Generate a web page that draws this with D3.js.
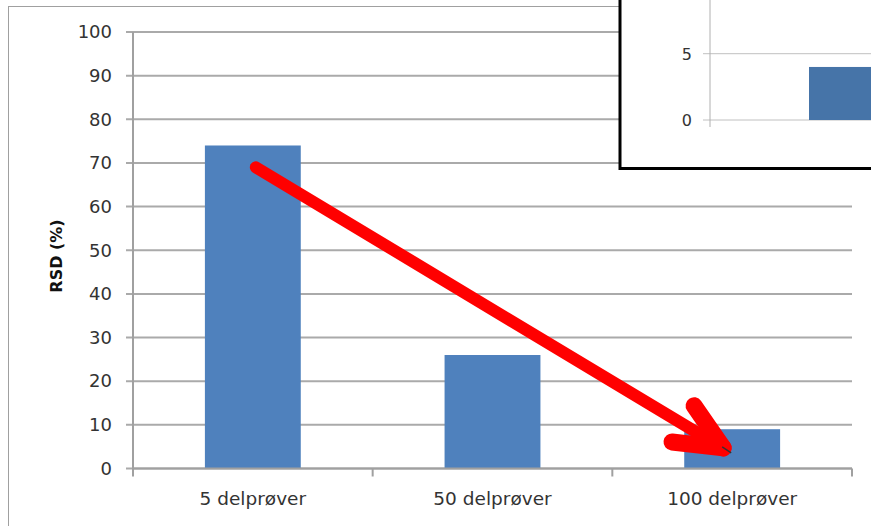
<!DOCTYPE html>
<html><head><meta charset="utf-8">
<script src="https://cdn.jsdelivr.net/npm/d3@7"></script>
<style>
html,body{margin:0;padding:0;background:#fff;}
svg{display:block;}
text{font-family:"DejaVu Sans",Verdana,sans-serif;}
</style></head>
<body>
<script>
const categories = ["5 delprøver", "50 delprøver", "100 delprøver"];
const values = [74, 26, 9];
const yTicks = [0, 10, 20, 30, 40, 50, 60, 70, 80, 90, 100];
const insetValues = [4];
const insetTicks = [0, 5];
const arrowFrom = {cat: 0, value: 69};
const arrowTo = {cat: 2, value: 3.8};

const W = 871, H = 526;
const svg = d3.select("body").append("svg").attr("width", W).attr("height", H);

// outer chart border
svg.append("rect").attr("x", 8.5).attr("y", 6.5).attr("width", 900).attr("height", 600)
  .attr("fill", "#fff").attr("stroke", "#a0a0a0").attr("stroke-width", 1);

const x = d3.scaleBand().domain(categories).range([133, 852]).paddingInner(0).paddingOuter(0);
const y = d3.scaleLinear().domain([0, 100]).range([468.5, 32]);

// gridlines
svg.append("g").selectAll("line").data(yTicks).join("line")
  .attr("x1", 126).attr("x2", 852)
  .attr("y1", d => y(d)).attr("y2", d => y(d))
  .attr("stroke", "#aaaaaa").attr("stroke-width", 2);

// y axis
const yAxis = svg.append("g").attr("transform", "translate(133,0)")
  .call(d3.axisLeft(y).tickValues(yTicks).tickSize(0).tickPadding(21));
yAxis.select(".domain").remove();
yAxis.append("line").attr("x1", 0).attr("x2", 0).attr("y1", y(100)).attr("y2", y(0) + 7)
  .attr("stroke", "#a0a0a0").attr("stroke-width", 2);
yAxis.selectAll(".tick text").attr("font-size", 18).attr("fill", "#333")
  .attr("font-family", "DejaVu Sans");

// bars
svg.append("g").selectAll("rect").data(values).join("rect")
  .attr("x", (d, i) => x(categories[i]) + x.bandwidth() * 0.3)
  .attr("width", x.bandwidth() * 0.4)
  .attr("y", d => y(d))
  .attr("height", d => y(0) - y(d))
  .attr("fill", "#4f81bd");

// x axis
const xg = svg.append("g").attr("transform", `translate(0,${y(0)})`);
xg.append("line").attr("x1", 133).attr("x2", 852).attr("y1", 0).attr("y2", 0)
  .attr("stroke", "#a0a0a0").attr("stroke-width", 2);
const bounds = [133].concat(categories.map(c => x(c) + x.bandwidth()));
xg.selectAll("line.t").data(bounds).join("line").attr("class", "t")
  .attr("x1", d => d).attr("x2", d => d).attr("y1", 0).attr("y2", 8)
  .attr("stroke", "#a0a0a0").attr("stroke-width", 2);
xg.selectAll("text").data(categories).join("text")
  .attr("x", d => x(d) + x.bandwidth() / 2).attr("y", 36)
  .attr("text-anchor", "middle").attr("font-size", 18.5).attr("fill", "#333")
  .text(d => d);

// y title
svg.append("text").attr("transform", `translate(62,256) rotate(-90)`)
  .attr("text-anchor", "middle").attr("font-size", 16).attr("font-weight", "bold").attr("fill", "#111")
  .text("RSD (%)");

// red arrow
const cx = i => x(categories[i]) + x.bandwidth() / 2;
const ax1 = cx(arrowFrom.cat) + 3, ay1 = y(arrowFrom.value);
const ax2 = cx(arrowTo.cat) - 3, ay2 = y(arrowTo.value);
const ang = Math.atan2(ay2 - ay1, ax2 - ax1);
const arrowG = svg.append("g");
arrowG.append("line").attr("x1", ax1 - 5).attr("y1", ay1 - 3).attr("x2", ax1).attr("y2", ay1)
  .attr("stroke", "#333").attr("stroke-width", 1.5);
arrowG.append("line").attr("x1", ax1).attr("y1", ay1)
  .attr("x2", ax2 - 10 * Math.cos(ang)).attr("y2", ay2 - 10 * Math.sin(ang))
  .attr("stroke", "#ff0000").attr("stroke-width", 12).attr("stroke-linecap", "round");
const headLen = 58;
const hx = ax2 - 6, hy = ay2 - 4;
[ang + Math.PI - 0.37, ang + Math.PI + 0.38].forEach(a => {
  arrowG.append("line").attr("x1", hx).attr("y1", hy)
    .attr("x2", ax2 + headLen * Math.cos(a)).attr("y2", ay2 + headLen * Math.sin(a))
    .attr("stroke", "#ff0000").attr("stroke-width", 17).attr("stroke-linecap", "round");
});
arrowG.append("line").attr("x1", ax2 - 7).attr("y1", ay2 - 5).attr("x2", ax2 + 2).attr("y2", ay2 + 1)
  .attr("stroke", "#333").attr("stroke-width", 1.5);

// inset
const inset = svg.append("g");
inset.append("rect").attr("x", 620).attr("y", -10).attr("width", 300).attr("height", 178.5)
  .attr("fill", "#fff").attr("stroke", "#000").attr("stroke-width", 3);
const iy = d3.scaleLinear().domain([0, 5]).range([120, 53.7]);
inset.selectAll("line.g").data(insetTicks).join("line").attr("class", "g")
  .attr("x1", 703).attr("x2", 871).attr("y1", d => iy(d)).attr("y2", d => iy(d))
  .attr("stroke", "#c0c0c0").attr("stroke-width", 1);
inset.append("line").attr("x1", 710).attr("x2", 710).attr("y1", 0).attr("y2", 127)
  .attr("stroke", "#b0b0b0").attr("stroke-width", 1);
inset.selectAll("text").data(insetTicks).join("text")
  .attr("x", 692).attr("y", d => iy(d) + 6).attr("text-anchor", "end")
  .attr("font-size", 16).attr("fill", "#333").text(d => d);
inset.selectAll("rect.b").data(insetValues).join("rect").attr("class", "b")
  .attr("x", 809).attr("width", 80)
  .attr("y", d => iy(d)).attr("height", d => iy(0) - iy(d))
  .attr("fill", "#4674a8");
</script>
</body></html>
